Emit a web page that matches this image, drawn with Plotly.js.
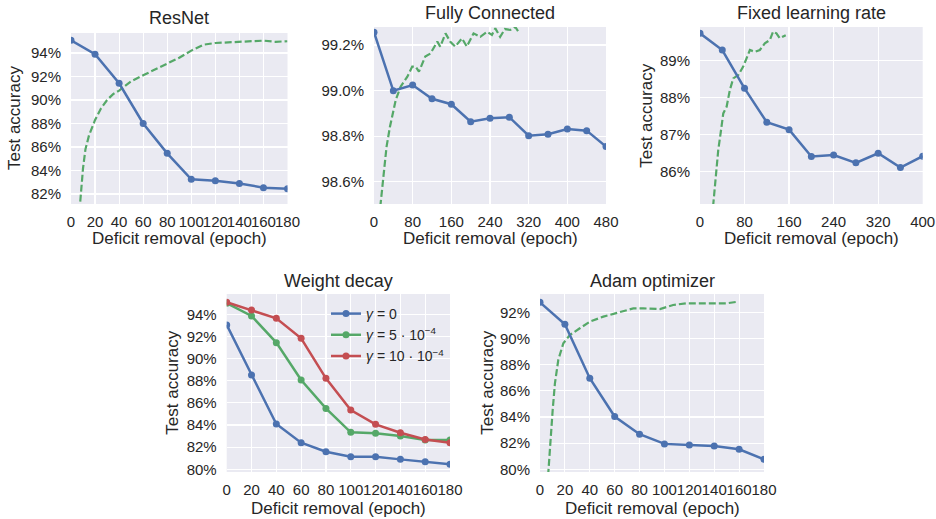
<!DOCTYPE html>
<html><head><meta charset="utf-8">
<script src="https://cdn.plot.ly/plotly-3.0.1.min.js"></script>
<style>html,body{margin:0;padding:0;background:#fff}#chart{width:936px;height:519px}</style>
</head><body><div id="chart"></div>
<script>
// ---------- Data ----------
// ResNet
const resnetEpochs = [0, 20, 40, 60, 80, 100, 120, 140, 160, 180];
const resnetAcc = [95.08, 93.9, 91.42, 88.0, 85.46, 83.25, 83.13, 82.9, 82.54, 82.45];
const resnetRefEpochs = [7, 10, 12, 15, 20, 25, 30, 35, 40, 45, 50, 60, 70, 80, 90, 100, 110, 120, 130, 140, 150, 160, 170, 180];
const resnetRefAcc = [80.5, 84.2, 85.8, 87.0, 88.3, 89.3, 90.0, 90.5, 90.8, 91.2, 91.6, 92.1, 92.6, 93.1, 93.6, 94.2, 94.7, 94.85, 94.9, 95.0, 95.0, 95.05, 94.95, 95.0];

// Fully Connected
const fcEpochs = [0, 40, 80, 120, 160, 200, 240, 280, 320, 360, 400, 440, 480];
const fcAcc = [99.256, 98.999, 99.024, 98.964, 98.940, 98.863, 98.878, 98.883, 98.802, 98.808, 98.831, 98.824, 98.754];
const fcRefEpochs = [13, 19, 26, 33, 45, 55, 69, 79, 86, 93, 106, 117, 131, 137, 148, 158, 168, 182, 192, 206, 220, 234, 244, 251, 261, 271, 282, 292, 301];
const fcRefAcc = [98.49, 98.622, 98.754, 98.841, 98.959, 99.017, 99.061, 99.105, 99.105, 99.083, 99.149, 99.163, 99.215, 99.193, 99.251, 99.214, 99.193, 99.229, 99.193, 99.251, 99.236, 99.258, 99.244, 99.273, 99.236, 99.27, 99.266, 99.28, 99.251];

// Fixed learning rate
const flrEpochs = [0, 40, 80, 120, 160, 200, 240, 280, 320, 360, 400];
const flrAcc = [89.742, 89.29, 88.25, 87.33, 87.13, 86.40, 86.44, 86.23, 86.49, 86.10, 86.41];
const flrRefEpochs = [23.5, 28.7, 32.8, 37, 41.8, 47.8, 53.7, 59.7, 68.7, 77.6, 83.6, 89.6, 98.5, 107.5, 116.4, 125.4, 131.3, 137.3, 143.3, 149.2, 154];
const flrRefAcc = [85.05, 85.95, 86.58, 87.03, 87.57, 87.75, 88.21, 88.52, 88.61, 88.84, 89.06, 89.29, 89.24, 89.29, 89.47, 89.56, 89.79, 89.74, 89.61, 89.65, 89.69];

// Weight decay
const wdEpochs = [0, 20, 40, 60, 80, 100, 120, 140, 160, 180];
const wdGamma0 = [93.04, 88.52, 84.09, 82.40, 81.59, 81.14, 81.14, 80.90, 80.69, 80.45];
const wdGamma5 = [95.0, 93.85, 91.44, 88.07, 85.5, 83.34, 83.25, 83.0, 82.64, 82.64];
const wdGamma10 = [95.08, 94.39, 93.64, 91.83, 88.22, 85.36, 84.06, 83.31, 82.70, 82.40];
const wdLabels = ['<i>γ</i> = 0', '<i>γ</i> = 5 · 10<sup>−4</sup>', '<i>γ</i> = 10 · 10<sup>−4</sup>'];

// Adam optimizer
const adamEpochs = [0, 20, 40, 60, 80, 100, 120, 140, 160, 180];
const adamAcc = [92.76, 91.08, 86.96, 84.03, 82.68, 81.94, 81.86, 81.78, 81.53, 80.76];
const adamRefEpochs = [6.5, 8, 10.2, 12, 14.7, 18.75, 24.1, 32, 40.2, 50.9, 60.3, 67, 75, 83, 96.4, 107, 117.9, 128.6, 139.3, 150, 159.4];
const adamRefAcc = [79.5, 81.73, 84.54, 86.57, 88.36, 89.63, 90.27, 90.78, 91.29, 91.67, 91.92, 92.05, 92.3, 92.3, 92.25, 92.56, 92.69, 92.69, 92.69, 92.69, 92.82];

// Tick values
const ticks180 = [0, 20, 40, 60, 80, 100, 120, 140, 160, 180];
const ticks480 = [0, 80, 160, 240, 320, 400, 480];
const ticks400 = [0, 80, 160, 240, 320, 400];
const yTicksResnet = [82, 84, 86, 88, 90, 92, 94];
const yTicksFC = [98.6, 98.8, 99.0, 99.2];
const yTicksFLR = [86, 87, 88, 89];
const yTicksWD = [80, 82, 84, 86, 88, 90, 92, 94];
const yTicksAdam = [80, 82, 84, 86, 88, 90, 92];

const titles = ['ResNet', 'Fully Connected', 'Fixed learning rate', 'Weight decay', 'Adam optimizer'];
const xLabel = 'Deficit removal (epoch)';
const yLabel = 'Test accuracy';

// ---------- Styling ----------
const BLUE = '#4C72B0', GREEN = '#55A868', RED = '#C44E52';
const TXT = '#262626';
const FONT = 'Liberation Sans, Arial, sans-serif';
const W = 936, H = 519;

function solid(x, y, color, xa, ya, name, show) {
  return {x: x, y: y, xaxis: xa, yaxis: ya, type: 'scatter', mode: 'lines+markers',
    name: name || '', showlegend: !!show,
    line: {color: color, width: 2.5}, marker: {color: color, size: 7}, cliponaxis: true};
}
function dashed(x, y, xa, ya) {
  return {x: x, y: y, xaxis: xa, yaxis: ya, type: 'scatter', mode: 'lines', showlegend: false,
    line: {color: GREEN, width: 2.2, dash: '7px,3px'}, hoverinfo: 'skip'};
}

const traces = [
  dashed(resnetRefEpochs, resnetRefAcc, 'x', 'y'),
  solid(resnetEpochs, resnetAcc, BLUE, 'x', 'y'),
  dashed(fcRefEpochs, fcRefAcc, 'x2', 'y2'),
  solid(fcEpochs, fcAcc, BLUE, 'x2', 'y2'),
  dashed(flrRefEpochs, flrRefAcc, 'x3', 'y3'),
  solid(flrEpochs, flrAcc, BLUE, 'x3', 'y3'),
  solid(wdEpochs, wdGamma0, BLUE, 'x4', 'y4', wdLabels[0], true),
  solid(wdEpochs, wdGamma5, GREEN, 'x4', 'y4', wdLabels[1], true),
  solid(wdEpochs, wdGamma10, RED, 'x4', 'y4', wdLabels[2], true),
  dashed(adamRefEpochs, adamRefAcc, 'x5', 'y5'),
  solid(adamEpochs, adamAcc, BLUE, 'x5', 'y5')
];

// plot boxes in pixels: [left, right, top, bottom]
const boxes = [
  [71, 287.5, 33, 204],
  [374, 606, 27, 204],
  [700, 922.7, 27, 204],
  [226.7, 450, 294, 472],
  [540, 764, 294, 472]
];
const xRanges = [[0, 180], [0, 480], [0, 400], [0, 180], [0, 180]];
const yRanges = [[81.15, 95.7], [98.502, 99.279], [85.113, 89.914], [79.76, 95.83], [79.79, 93.40]];
const xTicks = [ticks180, ticks480, ticks400, ticks180, ticks180];
const yTicks = [yTicksResnet, yTicksFC, yTicksFLR, yTicksWD, yTicksAdam];
const yDecimals = [0, 1, 0, 0, 0];

const layout = {
  width: W, height: H,
  margin: {l: 0, r: 0, t: 0, b: 0},
  paper_bgcolor: '#ffffff',
  plot_bgcolor: '#EAEAF2',
  font: {family: FONT, color: TXT, size: 15},
  showlegend: true,
  legend: {x: 326 / W, y: 1 - 298 / H, xanchor: 'left', yanchor: 'top',
    bgcolor: 'rgba(0,0,0,0)', font: {size: 14, color: TXT, family: FONT}, itemwidth: 30, tracegroupgap: 0},
  annotations: []
};

boxes.forEach((b, i) => {
  const n = i === 0 ? '' : String(i + 1);
  layout['xaxis' + n] = {
    domain: [b[0] / W, b[1] / W], anchor: 'y' + n, range: xRanges[i],
    tickmode: 'array', tickvals: xTicks[i], ticktext: xTicks[i].map(v => String(v)), tickangle: 0,
    showgrid: true, gridcolor: '#ffffff', gridwidth: 1.2, zeroline: false, showline: false,
    ticks: '', ticklabelstandoff: 7, tickfont: {size: 15, color: TXT, family: FONT}
  };
  layout['yaxis' + n] = {
    domain: [1 - b[3] / H, 1 - b[2] / H], anchor: 'x' + n, range: yRanges[i],
    tickmode: 'array', tickvals: yTicks[i], ticktext: yTicks[i].map(v => v.toFixed(yDecimals[i]) + '%'),
    showgrid: true, gridcolor: '#ffffff', gridwidth: 1.2, zeroline: false, showline: false,
    ticks: '', ticklabelstandoff: 9, tickfont: {size: 15, color: TXT, family: FONT}
  };
  const cx = (b[0] + b[1]) / 2;
  // subplot title
  const titleY = i < 3 ? (i === 0 ? 18 : 13) : 280.5;
  layout.annotations.push({text: titles[i], xref: 'paper', yref: 'paper', x: cx / W, y: 1 - titleY / H,
    xanchor: 'center', yanchor: 'middle', showarrow: false, font: {size: 18, color: TXT, family: FONT}});
  // x axis label
  const xlY = i < 3 ? 238.5 : 508.5;
  layout.annotations.push({text: xLabel, xref: 'paper', yref: 'paper', x: cx / W, y: 1 - xlY / H,
    xanchor: 'center', yanchor: 'middle', showarrow: false, font: {size: 17, color: TXT, family: FONT}});
});
// y axis labels (not on the Fully Connected panel)
const yLabelPos = [[14.5, 118.5], [647, 115.8], [171.7, 383], [486.7, 383]];
yLabelPos.forEach(p => {
  layout.annotations.push({text: yLabel, xref: 'paper', yref: 'paper', x: p[0] / W, y: 1 - p[1] / H,
    xanchor: 'center', yanchor: 'middle', textangle: -90, showarrow: false,
    font: {size: 17, color: TXT, family: FONT}});
});

Plotly.newPlot('chart', traces, layout, {staticPlot: true, displayModeBar: false});
</script>
</body></html>
